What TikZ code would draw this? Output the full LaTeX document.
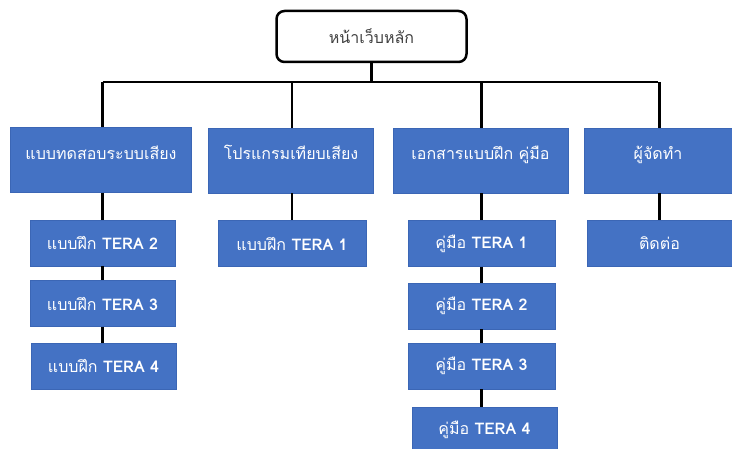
\documentclass[tikz,border=0pt]{standalone}
\usepackage{fontspec}
\setmainfont[Script=Thai]{Loma}
\definecolor{boxblue}{HTML}{4472C4}
\definecolor{boxedge}{HTML}{3B66B5}
\begin{document}
\begin{tikzpicture}[x=1pt, y=-1pt,
	topbox/.style={draw=black, line width=2.5pt, rounded corners=8pt, fill=white,
		minimum width=190pt, minimum height=51pt, text=black!75, font=\fontsize{16}{18}\selectfont},
	headbox/.style={draw=boxedge, fill=boxblue, text=white, inner sep=0pt,
		minimum width=181pt, text height=32pt, text depth=33pt, font=\fontsize{16}{18}\selectfont},
	subbox/.style={draw=boxedge, fill=boxblue, text=white, inner sep=0pt,
		minimum width=145pt, minimum height=46pt, font=\fontsize{16}{18}\selectfont},
	link/.style={line width=2.2pt}]
	\useasboundingbox (0,0) rectangle (732,449);
	
	\node[topbox] (root) at (371.5,36.5) {หน้าเว็บหลัก};
	
	\node[headbox] (head1) at (101,160) {แบบทดสอบระบบเสียง};
	\node[headbox, minimum width=165pt] (head2) at (291,160.5) {โปรแกรมเทียบเสียง};
	\node[headbox, minimum width=175pt] (head3) at (480.5,160.5) {เอกสารแบบฝึก คู่มือ};
	\node[headbox, minimum width=148pt] (head4) at (658,160.5) {ผู้จัดทำ};
	
	\node[subbox] (fa2) at (102.5,243) {แบบฝึก \textbf{TERA 2}};
	\node[subbox] (fa3) at (102.5,303.5) {แบบฝึก \textbf{TERA 3}};
	\node[subbox] (fa4) at (103.5,366) {แบบฝึก \textbf{TERA 4}};
	
	\node[subbox, minimum width=148pt] (fb1) at (292,243.5) {แบบฝึก \textbf{TERA 1}};
	
	\node[subbox, minimum width=147pt] (ma1) at (481.5,243.5) {คู่มือ \textbf{TERA 1}};
	\node[subbox, minimum width=147pt] (ma2) at (481.5,306) {คู่มือ \textbf{TERA 2}};
	\node[subbox, minimum width=147pt] (ma3) at (481.5,366) {คู่มือ \textbf{TERA 3}};
	\node[subbox, minimum width=145pt] (ma4) at (484.5,430) {คู่มือ \textbf{TERA 4}};
	
	\node[subbox] (ct) at (659.5,243.5) {ติดต่อ};
	
	% Verbindungen
	\coordinate (bar) at (371.5,82);
	\draw[link] (root.south) -- (bar);
	\draw[link] (fa2.north |- bar) -- (head4.north |- bar);
	\foreach \h/\c in {head1/fa2, head2/fb1, head3/ma1, head4/ct} {
		\draw[link] (\c.north |- bar) -- (\c.north |- \h.north);
		\draw[link] (\c.north |- \h.south) -- (\c.north);
	}
	\draw[link] (fa2.south) -- (fa2.south |- fa3.north);
	\draw[link] (fa3.south) -- (fa3.south |- fa4.north);
	\draw[link] (ma1.south) -- (ma2.north);
	\draw[link] (ma2.south) -- (ma3.north);
	\draw[link] (ma3.south) -- (ma3.south |- ma4.north);
\end{tikzpicture}
\end{document}
